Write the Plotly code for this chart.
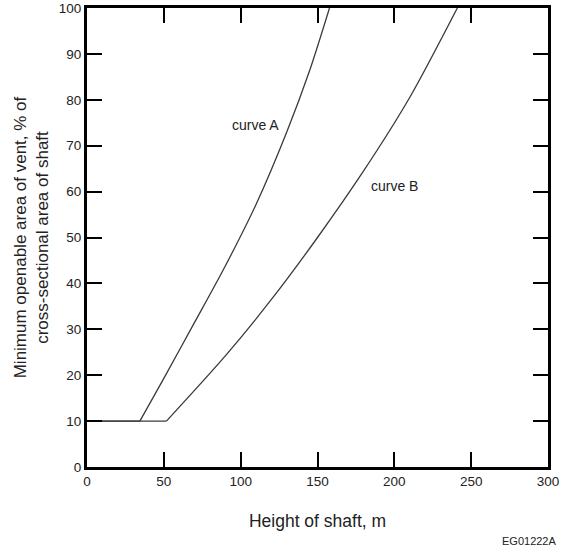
import plotly.graph_objects as go

# Curve A: height of shaft (m) vs minimum openable vent area (% of cross-section)
curve_a_x = [0, 34.4, 50, 70, 90, 110, 130, 145, 157.8]
curve_a_y = [10, 10, 19.3, 31.5, 43.8, 57.2, 73, 86.5, 100]

# Curve B
curve_b_x = [0, 51.7, 90, 120, 150, 180, 210, 241]
curve_b_y = [10, 10, 24.2, 36.5, 50, 64.5, 80.5, 100]

x_ticks = [0, 50, 100, 150, 200, 250, 300]
y_ticks = [0, 10, 20, 30, 40, 50, 60, 70, 80, 90, 100]

font_family = "Liberation Sans, Arial, sans-serif"
line_style = dict(color="#3a3a3a", width=1.3)

fig = go.Figure()
for xs, ys in [(curve_a_x, curve_a_y), (curve_b_x, curve_b_y)]:
    # flat portion at the minimum value
    fig.add_trace(go.Scatter(x=xs[:2], y=ys[:2], mode="lines",
                             line=dict(**line_style), showlegend=False, hoverinfo="x+y"))
    # rising portion
    fig.add_trace(go.Scatter(x=xs[1:], y=ys[1:], mode="lines",
                             line=dict(**line_style, shape="spline", smoothing=0.8),
                             showlegend=False, hoverinfo="x+y"))

fig.add_annotation(x=109.7, y=74.5, text="curve A", showarrow=False,
                   font=dict(size=14, color="#222", family=font_family))
fig.add_annotation(x=200.4, y=61.2, text="curve B", showarrow=False,
                   font=dict(size=14, color="#222", family=font_family))
fig.add_annotation(x=1, y=0, xref="paper", yref="paper", xanchor="right", yanchor="middle",
                   xshift=10, yshift=-74, text="EG01222A", showarrow=False,
                   font=dict(size=11, color="#222", family=font_family))

axis_common = dict(showline=True, linewidth=3, linecolor="black", mirror="allticks",
                   ticks="inside", ticklen=15, tickwidth=1.5, tickcolor="black",
                   showgrid=False, zeroline=False, automargin=False,
                   tickfont=dict(size=13.5, color="#222", family=font_family))

fig.update_xaxes(range=[0, 300], tickvals=x_ticks, **axis_common,
                 title=dict(text="Height of shaft, m", standoff=27,
                            font=dict(size=17.5, color="#222", family=font_family)))
fig.update_yaxes(range=[0, 100], tickvals=y_ticks, **axis_common,
                 title=dict(text="Minimum openable area of vent, % of<br>cross-sectional area of shaft",
                            standoff=6,
                            font=dict(size=17, color="#222", family=font_family)))

fig.update_layout(width=561, height=550,
                  margin=dict(l=87, r=13, t=8, b=83),
                  plot_bgcolor="white", paper_bgcolor="white")

fig.write_html("out.html", post_script="document.body.style.margin='0px';",
               config={"displayModeBar": False})
